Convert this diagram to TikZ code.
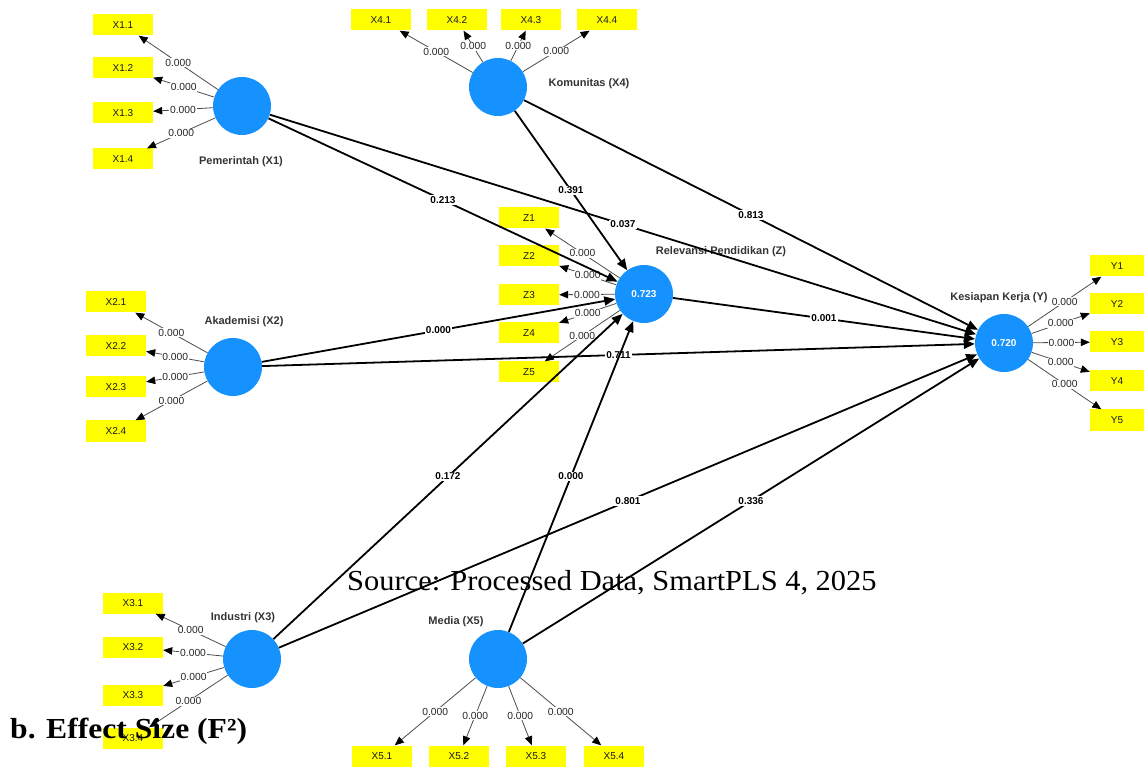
\documentclass[tikz,border=0pt]{standalone}
\usepackage{fontspec}
\setmainfont{Liberation Sans}
\newfontfamily\capserif{Liberation Serif}
\usetikzlibrary{arrows.meta}
\definecolor{lvblue}{RGB}{22,146,255}
\definecolor{indyellow}{RGB}{255,255,0}
\tikzset{
  lv/.style={circle, fill=lvblue, minimum size=58pt, inner sep=0pt, text=white,
    font=\bfseries\fontsize{10}{12}\selectfont},
  ind/.style={fill=indyellow, minimum width=60pt, minimum height=21pt, inner sep=0pt,
    text=black!90, font=\fontsize{10}{12}\selectfont},
  indY/.style={ind, minimum width=54pt},
  lvlabel/.style={text=black!80, font=\bfseries\fontsize{11}{13}\selectfont},
  regarrow/.style={line width=1.8pt, draw=black, -{Triangle[length=11pt,width=9pt]}},
  loadarrow/.style={line width=0.8pt, draw=black!70, -{Triangle[length=9pt,width=7.5pt,color=black]}},
  pc/.style={fill=white, inner sep=1pt, text=black, font=\bfseries\fontsize{10}{12}\selectfont},
  lc/.style={fill=white, inner sep=0.8pt, text=black!85, font=\fontsize{10.3}{12}\selectfont}
}
\begin{document}
\begin{tikzpicture}[x=1pt, y=-1pt]
\useasboundingbox (0,0) rectangle (1144,767);
% latent variables
\node[lv] (X1) at (242,106) {};
\node[lv] (X4) at (498,87) {};
\node[lv] (Z) at (644,294) {0.723};
\node[lv] (X2) at (233,367) {};
\node[lv] (Y) at (1004,343) {0.720};
\node[lv] (X3) at (252,659) {};
\node[lv] (X5) at (498,659) {};
% latent labels
\node[lvlabel] (lX1) at (241,162) {Pemerintah (X1)};
\node[lvlabel] (lX4) at (589,84) {Komunitas (X4)};
\node[lvlabel] (lZ) at (721,252) {Relevansi Pendidikan (Z)};
\node[lvlabel] (lX2) at (244,322) {Akademisi (X2)};
\node[lvlabel] (lY) at (999,298) {Kesiapan Kerja (Y)};
\node[lvlabel] (lX3) at (243,618) {Industri (X3)};
\node[lvlabel] (lX5) at (456,622) {Media (X5)};
% indicators
\node[ind] (x11) at (123,25) {X1.1};
\node[ind] (x12) at (123,68) {X1.2};
\node[ind] (x13) at (123,113) {X1.3};
\node[ind] (x14) at (123,159) {X1.4};
\node[ind] (x41) at (381,20) {X4.1};
\node[ind] (x42) at (457,20) {X4.2};
\node[ind] (x43) at (531,20) {X4.3};
\node[ind] (x44) at (607,20) {X4.4};
\node[ind] (z1) at (529,218) {Z1};
\node[ind] (z2) at (529,256) {Z2};
\node[ind] (z3) at (529,295) {Z3};
\node[ind] (z4) at (529,333) {Z4};
\node[ind] (z5) at (529,372) {Z5};
\node[indY] (y1) at (1117,266) {Y1};
\node[indY] (y2) at (1117,304) {Y2};
\node[indY] (y3) at (1117,342) {Y3};
\node[indY] (y4) at (1117,381) {Y4};
\node[indY] (y5) at (1117,420) {Y5};
\node[ind] (x21) at (116,302) {X2.1};
\node[ind] (x22) at (116,346) {X2.2};
\node[ind] (x23) at (116,387) {X2.3};
\node[ind] (x24) at (116,431) {X2.4};
\node[ind] (x31) at (133,603) {X3.1};
\node[ind] (x32) at (133,647) {X3.2};
\node[ind] (x33) at (133,695) {X3.3};
\node[ind] (x34) at (133,738) {X3.4};
\node[ind] (x51) at (382,756) {X5.1};
\node[ind] (x52) at (459,756) {X5.2};
\node[ind] (x53) at (536,756) {X5.3};
\node[ind] (x54) at (614,756) {X5.4};
% loadings
\foreach \s/\t in {X1/x11,X1/x12,X1/x13,X1/x14,X4/x41,X4/x42,X4/x43,X4/x44,
  Z/z1,Z/z2,Z/z3,Z/z4,Z/z5,Y/y1,Y/y2,Y/y3,Y/y4,Y/y5,X2/x21,X2/x22,X2/x23,X2/x24,
  X3/x31,X3/x32,X3/x33,X3/x34,X5/x51,X5/x52,X5/x53,X5/x54}
  \draw[loadarrow] (\s) -- node[lc] {0.000} (\t);
% structural paths
\draw[regarrow] (X1) -- node[pc] {0.213} (Z);
\draw[regarrow] (X1) -- node[pc] {0.037} (Y);
\draw[regarrow] (X4) -- node[pc] {0.391} (Z);
\draw[regarrow] (X4) -- node[pc] {0.813} (Y);
\draw[regarrow] (X2) -- node[pc] {0.000} (Z);
\draw[regarrow] (X2) -- node[pc] {0.711} (Y);
\draw[regarrow] (Z) -- node[pc] {0.001} (Y);
\draw[regarrow] (X3) -- node[pc] {0.172} (Z);
\draw[regarrow] (X3) -- node[pc] {0.801} (Y);
\draw[regarrow] (X5) -- node[pc] {0.000} (Z);
\draw[regarrow] (X5) -- node[pc] {0.336} (Y);
% captions
\node[anchor=base west, inner sep=0pt, xscale=1.05, font=\capserif\fontsize{29}{32}\selectfont] (src) at (347,590) {Source: Processed Data, SmartPLS 4, 2025};
\node[anchor=base west, inner sep=0pt, xscale=1.09, font=\capserif\bfseries\fontsize{29}{32}\selectfont] (fs) at (10,738) {b. Effect Size (F²)};
\end{tikzpicture}
\end{document}
